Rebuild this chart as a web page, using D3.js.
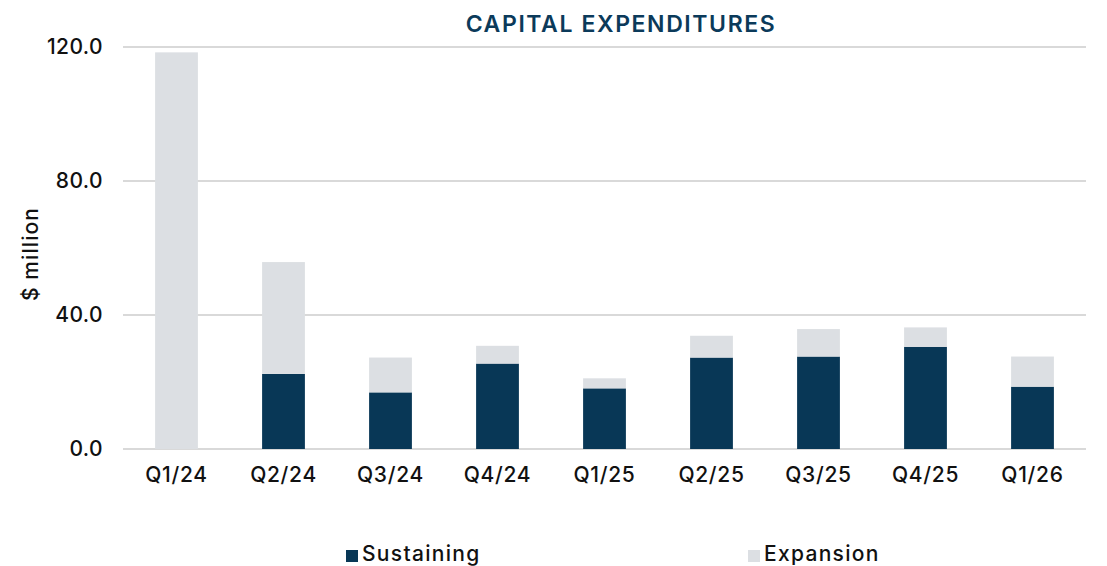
<!DOCTYPE html>
<html>
<head>
<meta charset="utf-8">
<script src="https://cdn.jsdelivr.net/npm/d3@7"></script>
<style>
  html, body { margin: 0; padding: 0; background: #fff; }
  svg { display: block; font-family: "Inter", "Noto Sans", sans-serif; }
</style>
</head>
<body>
<svg id="chart" width="1107" height="566"></svg>
<script>
const categories = ["Q1/24","Q2/24","Q3/24","Q4/24","Q1/25","Q2/25","Q3/25","Q4/25","Q1/26"];
const sustaining = [0, 22.4, 16.9, 25.5, 18.1, 27.3, 27.6, 30.5, 18.6];
const expansion  = [118.4, 33.4, 10.4, 5.3, 3.0, 6.5, 8.2, 5.8, 9.0];
const seriesNames = ["Sustaining", "Expansion"];
const yTicks = [0, 40, 80, 120];
const title = "CAPITAL EXPENDITURES";
const yLabel = "$ million";

const colors = { Sustaining: "#083756", Expansion: "#dcdfe3" };

const svg = d3.select("#chart");
const margin = { left: 123, right: 21, top: 47, bottom: 117 };
const W = 1107, H = 566;

const x = d3.scaleBand()
  .domain(categories)
  .range([margin.left, W - margin.right])
  .paddingInner(0.6)
  .paddingOuter(0.3);

const y = d3.scaleLinear()
  .domain([0, 120])
  .range([H - margin.bottom, margin.top]);

// gridlines
svg.append("g")
  .selectAll("line")
  .data(yTicks)
  .join("line")
  .attr("x1", margin.left)
  .attr("x2", W - margin.right)
  .attr("y1", d => y(d))
  .attr("y2", d => y(d))
  .attr("stroke", "#d9d9d9")
  .attr("stroke-width", 2);

// y axis
const yAxis = d3.axisLeft(y).tickValues(yTicks).tickFormat(d3.format(".1f")).tickSize(0).tickPadding(20);
const gy = svg.append("g").attr("transform", `translate(${margin.left},0)`).call(yAxis);
gy.select(".domain").remove();
gy.selectAll("text")
  .attr("font-size", 21)
  .attr("font-weight", 500)
  .attr("letter-spacing", 0.4)
  .attr("fill", "#111")
  .attr("font-family", "Inter, sans-serif");

// stacked bars
const rows = categories.map((c, i) => ({ cat: c, Sustaining: sustaining[i], Expansion: expansion[i] }));
const stack = d3.stack().keys(seriesNames)(rows);

svg.append("g")
  .selectAll("g")
  .data(stack)
  .join("g")
  .attr("fill", d => colors[d.key])
  .selectAll("rect")
  .data(d => d)
  .join("rect")
  .attr("x", d => x(d.data.cat))
  .attr("width", x.bandwidth())
  .attr("y", d => y(d[1]))
  .attr("height", d => Math.max(0, y(d[0]) - y(d[1])));

// x axis
const xAxis = d3.axisBottom(x).tickSize(0).tickPadding(18);
const gx = svg.append("g").attr("transform", `translate(0,${y(0)})`).call(xAxis);
gx.select(".domain").remove();
gx.selectAll("text")
  .attr("font-size", 21)
  .attr("font-weight", 500)
  .attr("letter-spacing", 0.7)
  .attr("fill", "#111")
  .attr("font-family", "Inter, sans-serif");

// title
svg.append("text")
  .attr("x", 621)
  .attr("y", 32)
  .attr("text-anchor", "middle")
  .attr("font-size", 23)
  .attr("font-weight", 600)
  .attr("letter-spacing", 1.6)
  .attr("fill", "#0b3a5a")
  .text(title);

// y label
svg.append("text")
  .attr("transform", `translate(38,254) rotate(-90)`)
  .attr("text-anchor", "middle")
  .attr("font-size", 21)
  .attr("font-weight", 500)
  .attr("letter-spacing", 1.1)
  .attr("fill", "#111")
  .text(yLabel);

// legend
const legendPos = [346, 748];
const lg = svg.append("g").selectAll("g").data(seriesNames).join("g")
  .attr("transform", (d, i) => `translate(${legendPos[i]},550)`);
lg.append("rect").attr("width", 12).attr("height", 12).attr("fill", d => colors[d]);
lg.append("text")
  .attr("x", 16)
  .attr("y", 11)
  .attr("font-size", 21)
  .attr("font-weight", 500)
  .attr("letter-spacing", 1.3)
  .attr("fill", "#111")
  .text(d => d);
</script>
</body>
</html>
